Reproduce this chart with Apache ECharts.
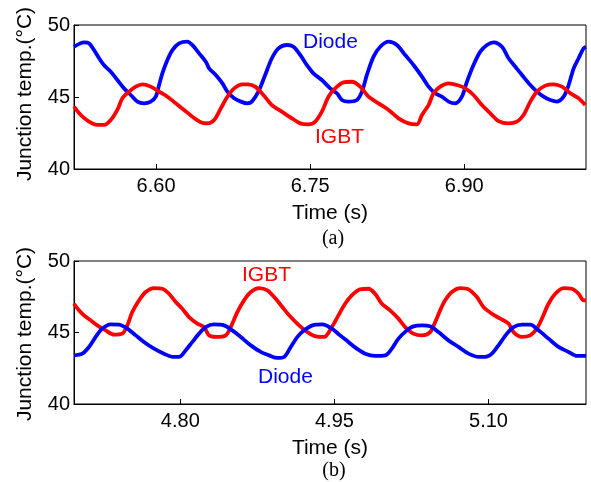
<!DOCTYPE html>
<html><head><meta charset="utf-8">
<script src="https://cdn.jsdelivr.net/npm/echarts@6/dist/echarts.min.js"></script>
<style>html,body{margin:0;padding:0;background:#fff}#c{width:591px;height:482px}</style>
</head><body><div id="c"></div>
<script>
// Panel (a)
const timeA_diode = [6.5201,6.5299,6.5347,6.5396,6.5445,6.5494,6.5559,6.5623,6.5688,6.5754,6.5818,6.5883,6.5948,6.5997,6.6029,6.6061,6.6110,6.6159,6.6224,6.6305,6.6354,6.6419,6.6484,6.6516,6.6581,6.6646,6.6694,6.6760,6.6825,6.6889,6.6932,6.6996,6.7062,6.7127,6.7191,6.7273,6.7337,6.7403,6.7468,6.7532,6.7614,6.7695,6.7760,6.7809,6.7873,6.7955,6.8004,6.8052,6.8117,6.8182,6.8263,6.8344,6.8425,6.8506,6.8588,6.8652,6.8717,6.8783,6.8847,6.8912,6.8977,6.9026,6.9090,6.9156,6.9221,6.9285,6.9367,6.9431,6.9497,6.9562,6.9643,6.9708,6.9772,6.9838,6.9903,6.9967,7.0016,7.0065,7.0113,7.0162,7.0185];
const diodeA = [48.49,48.80,48.73,48.26,47.69,47.20,46.76,46.18,45.60,45.14,44.68,44.56,44.68,45.02,45.83,46.64,47.57,48.26,48.73,48.84,48.60,48.03,47.45,46.99,46.53,45.95,45.37,44.91,44.68,44.56,44.68,45.37,46.53,47.69,48.38,48.61,48.49,47.92,47.22,46.64,46.18,45.60,45.26,44.79,44.68,44.79,45.37,46.53,47.80,48.49,48.84,48.61,47.92,47.22,46.41,45.72,45.26,45.02,44.68,44.56,45.02,46.06,47.22,48.15,48.61,48.80,48.49,47.69,47.10,46.53,45.83,45.37,45.02,44.79,44.68,45.02,45.83,46.99,47.69,48.38,48.49];
const timeA_igbt = [6.5201,6.5267,6.5347,6.5428,6.5494,6.5559,6.5623,6.5672,6.5737,6.5802,6.5867,6.5948,6.6029,6.6110,6.6192,6.6273,6.6354,6.6435,6.6500,6.6565,6.6630,6.6694,6.6760,6.6841,6.6896,6.6964,6.7045,6.7127,6.7224,6.7322,6.7403,6.7483,6.7549,6.7614,6.7678,6.7743,6.7824,6.7906,6.7987,6.8068,6.8165,6.8263,6.8360,6.8457,6.8539,6.8588,6.8652,6.8701,6.8766,6.8847,6.8929,6.9010,6.9090,6.9172,6.9253,6.9334,6.9431,6.9513,6.9577,6.9643,6.9708,6.9789,6.9870,6.9951,7.0032,7.0113,7.0178];
const igbtA = [44.33,43.75,43.29,43.06,43.06,43.40,44.10,44.91,45.37,45.72,45.88,45.72,45.37,45.02,44.56,44.10,43.63,43.24,43.17,43.40,44.21,45.02,45.60,45.88,45.88,45.72,45.14,44.44,43.98,43.52,43.17,43.10,43.29,43.98,45.02,45.60,46.02,46.06,45.72,45.02,44.56,44.10,43.52,43.17,43.10,43.75,44.44,45.26,45.72,45.95,45.83,45.60,45.14,44.44,43.87,43.33,43.17,43.29,43.75,44.68,45.37,45.79,45.88,45.72,45.26,44.91,44.44];
// Panel (b)
const timeB_igbt = [4.6965,4.7013,4.7062,4.7127,4.7192,4.7273,4.7354,4.7435,4.7484,4.7532,4.7598,4.7663,4.7744,4.7825,4.7890,4.7955,4.8019,4.8085,4.8166,4.8231,4.8280,4.8360,4.8442,4.8491,4.8555,4.8620,4.8686,4.8767,4.8847,4.8929,4.8993,4.9075,4.9156,4.9237,4.9319,4.9400,4.9475,4.9539,4.9604,4.9669,4.9750,4.9831,4.9896,4.9962,5.0042,5.0123,5.0189,5.0269,5.0351,5.0432,5.0481,5.0529,5.0578,5.0643,5.0724,5.0805,5.0887,5.0951,5.1033,5.1114,5.1195,5.1243,5.1325,5.1406,5.1471,5.1520,5.1584,5.1650,5.1730,5.1812,5.1877,5.1925,5.1949];
const igbtB = [47.01,46.55,46.20,45.85,45.50,45.15,44.85,44.92,45.50,46.43,47.25,47.83,48.11,48.06,47.71,47.13,46.66,46.08,45.62,45.38,44.80,44.69,44.80,45.38,46.43,47.25,47.83,48.11,47.95,47.36,46.78,46.08,45.50,45.03,44.73,44.69,45.38,46.20,47.01,47.60,48.02,48.06,47.71,47.01,46.55,45.97,45.38,44.92,44.80,45.03,45.73,46.55,47.25,47.83,48.11,48.02,47.48,46.78,46.31,45.97,45.62,45.03,44.69,44.80,45.27,45.97,47.01,47.71,48.11,48.06,47.71,47.25,47.25];
const timeB_diode = [4.6965,4.7045,4.7111,4.7176,4.7240,4.7322,4.7403,4.7484,4.7566,4.7646,4.7744,4.7841,4.7922,4.7987,4.8053,4.8117,4.8182,4.8247,4.8328,4.8426,4.8506,4.8588,4.8686,4.8783,4.8864,4.8945,4.9010,4.9075,4.9140,4.9205,4.9286,4.9383,4.9475,4.9555,4.9636,4.9718,4.9799,4.9896,4.9994,5.0059,5.0123,5.0205,5.0269,5.0351,5.0432,5.0513,5.0610,5.0708,5.0805,5.0903,5.0968,5.1033,5.1097,5.1179,5.1243,5.1325,5.1406,5.1487,5.1584,5.1682,5.1779,5.1861,5.1949];
const diodeB = [43.40,43.52,43.99,44.69,45.27,45.57,45.55,45.27,44.80,44.34,43.87,43.52,43.29,43.29,43.76,44.34,44.92,45.38,45.57,45.50,45.15,44.69,44.10,43.64,43.40,43.22,43.29,43.99,44.69,45.15,45.50,45.57,45.27,44.80,44.34,43.87,43.52,43.36,43.40,43.87,44.57,45.15,45.43,45.50,45.43,45.03,44.45,43.99,43.52,43.29,43.29,43.52,44.10,44.92,45.38,45.55,45.55,45.15,44.57,43.99,43.64,43.36,43.36];
const xTicksA = [6.60, 6.75, 6.90];
const xTicksB = [4.80, 4.95, 5.10];
const yTicks = [40, 45, 50];

const FONT = '"Liberation Sans", Arial, sans-serif';
const zip = (t, v) => t.map((x, i) => [x, v[i]]);
const chart = echarts.init(document.getElementById('c'), null, {renderer: 'canvas'});

function xAxisCfg(idx, min, max, ticks) {
  return {
    type: 'value', gridIndex: idx, min: min, max: max,
    name: 'Time (s)', nameLocation: 'middle', nameGap: 34,
    nameTextStyle: {fontFamily: FONT, fontSize: 21, color: '#000'},
    axisLine: {show: true, lineStyle: {color: '#000', width: 1}},
    axisTick: {show: true, inside: true, length: 5, customValues: ticks, lineStyle: {color: '#000'}},
    axisLabel: {customValues: ticks, formatter: v => v.toFixed(2), fontFamily: FONT, fontSize: 20, color: '#000', margin: 7},
    splitLine: {show: false}
  };
}
function yAxisCfg(idx) {
  return {
    type: 'value', gridIndex: idx, min: 40, max: 50, interval: 5,
    axisLine: {show: true, lineStyle: {color: '#000', width: 1}},
    axisTick: {show: true, inside: true, length: 5, lineStyle: {color: '#000'}},
    axisLabel: {customValues: yTicks, fontFamily: FONT, fontSize: 20, color: '#000', margin: 4},
    splitLine: {show: false}
  };
}
function lineSeries(name, xi, data, color) {
  return {
    type: 'line', name: name, xAxisIndex: xi, yAxisIndex: xi, data: data,
    showSymbol: false, smooth: 0.3, animation: false,
    lineStyle: {color: color, width: 3.8}, itemStyle: {color: color}
  };
}

chart.setOption({
  animation: false,
  backgroundColor: '#fff',
  grid: [
    {left: 74, right: 5, top: 25, height: 144, show: true, borderColor: '#000', borderWidth: 1, containLabel: false},
    {left: 74, right: 5, top: 261, height: 143, show: true, borderColor: '#000', borderWidth: 1, containLabel: false}
  ],
  xAxis: [
    xAxisCfg(0, timeA_diode[0], timeA_diode[timeA_diode.length - 1], xTicksA),
    xAxisCfg(1, timeB_igbt[0], timeB_igbt[timeB_igbt.length - 1], xTicksB)
  ],
  yAxis: [yAxisCfg(0), yAxisCfg(1)],
  series: [
    lineSeries('Diode', 0, zip(timeA_diode, diodeA), '#0000ff'),
    lineSeries('IGBT', 0, zip(timeA_igbt, igbtA), '#ff0000'),
    lineSeries('IGBT', 1, zip(timeB_igbt, igbtB), '#ff0000'),
    lineSeries('Diode', 1, zip(timeB_diode, diodeB), '#0000ff')
  ],
  graphic: [
    {type: 'text', x: 25, y: 94, rotation: Math.PI / 2, style: {text: 'Junction temp.(°C)', font: '21px ' + FONT, fill: '#000', align: 'center', verticalAlign: 'middle'}},
    {type: 'text', x: 25, y: 334, rotation: Math.PI / 2, style: {text: 'Junction temp.(°C)', font: '21px ' + FONT, fill: '#000', align: 'center', verticalAlign: 'middle'}},
    {type: 'text', x: 333, y: 239, style: {text: '(a)', font: '20px "Liberation Serif", "Times New Roman", serif', fill: '#000', align: 'center', verticalAlign: 'middle'}},
    {type: 'text', x: 334, y: 471, style: {text: '(b)', font: '20px "Liberation Serif", "Times New Roman", serif', fill: '#000', align: 'center', verticalAlign: 'middle'}},
    {type: 'text', x: 303, y: 42, style: {text: 'Diode', font: '21px ' + FONT, fill: '#0000ff', verticalAlign: 'middle'}},
    {type: 'text', x: 315, y: 137, style: {text: 'IGBT', font: '21px ' + FONT, fill: '#ff0000', verticalAlign: 'middle'}},
    {type: 'text', x: 242, y: 275, style: {text: 'IGBT', font: '21px ' + FONT, fill: '#ff0000', verticalAlign: 'middle'}},
    {type: 'text', x: 258, y: 377, style: {text: 'Diode', font: '21px ' + FONT, fill: '#0000ff', verticalAlign: 'middle'}}
  ]
});
</script></body></html>
